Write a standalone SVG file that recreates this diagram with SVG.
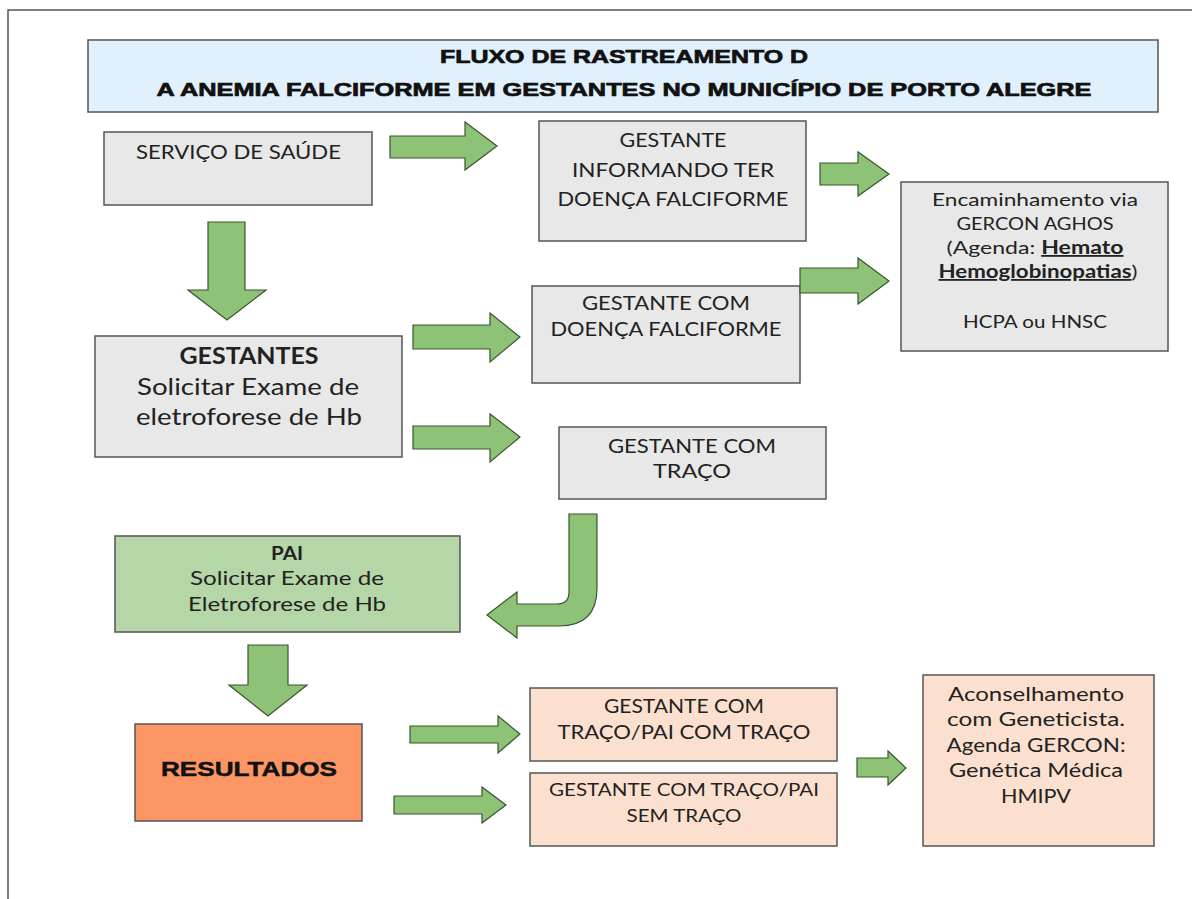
<svg xmlns="http://www.w3.org/2000/svg" width="1192" height="899" viewBox="0 0 1192 899">
<style>
.box{fill:#e8e8e8;stroke:#555;stroke-width:1.5}
.pai{fill:#b5d6a7;stroke:#555;stroke-width:1.5}
.res{fill:#fd9665;stroke:#555;stroke-width:1.5}
.peach{fill:#fbe0cf;stroke:#555;stroke-width:1.5}
.arrow{fill:#8dc277;stroke:#3a5530;stroke-width:1.2;stroke-linejoin:miter}
.t{font-family:Lato,"Open Sans",sans-serif;font-size:19.5px;fill:#222;text-anchor:middle}
.s{font-size:18px}
.l{font-size:22.5px}
.title{font-family:"Liberation Sans",Arial,sans-serif;font-weight:bold;font-size:19px;fill:#111;stroke:#111;stroke-width:0.7;text-anchor:middle}
</style>
<rect width="1192" height="899" fill="#fff"/>
<path d="M8,899 V10 H1192" fill="none" stroke="#555" stroke-width="1.5"/>

<g id="title">
<rect x="88" y="40" width="1070" height="72" fill="#e0f0fc" stroke="#555" stroke-width="1.5"/>
<text class="title" x="624" y="63" textLength="368" lengthAdjust="spacingAndGlyphs">FLUXO DE RASTREAMENTO D</text>
<text class="title" x="624" y="96" textLength="935" lengthAdjust="spacingAndGlyphs">A ANEMIA FALCIFORME EM GESTANTES NO MUNICÍPIO DE PORTO ALEGRE</text>
</g>

<g id="servico">
<rect class="box" x="104" y="132" width="268" height="73"/>
<text class="t" x="238.5" y="159" textLength="205" lengthAdjust="spacingAndGlyphs">SERVIÇO DE SAÚDE</text>
</g>

<g id="gestante-informando">
<rect class="box" x="539" y="121" width="267" height="120"/>
<text class="t" x="673" y="147" textLength="107" lengthAdjust="spacingAndGlyphs">GESTANTE</text>
<text class="t" x="673" y="177" textLength="202" lengthAdjust="spacingAndGlyphs">INFORMANDO TER</text>
<text class="t" x="673" y="206" textLength="231" lengthAdjust="spacingAndGlyphs">DOENÇA FALCIFORME</text>
</g>

<g id="encaminhamento">
<rect class="box" x="901" y="182" width="267" height="169"/>
<text class="t s" x="1035" y="206" textLength="206" lengthAdjust="spacingAndGlyphs">Encaminhamento via</text>
<text class="t s" x="1035" y="230" textLength="157" lengthAdjust="spacingAndGlyphs">GERCON AGHOS</text>
<text class="t s" x="1035" y="254" textLength="177" lengthAdjust="spacingAndGlyphs">(Agenda: <tspan font-weight="bold" text-decoration="underline">Hemato</tspan></text>
<text class="t s" x="1038" y="278" textLength="199" lengthAdjust="spacingAndGlyphs"><tspan font-weight="bold" text-decoration="underline">Hemoglobinopatias</tspan>)</text>
<text class="t s" x="1035" y="328" textLength="144" lengthAdjust="spacingAndGlyphs">HCPA ou HNSC</text>
</g>

<g id="gestante-doenca">
<rect class="box" x="532" y="286" width="268" height="97"/>
<text class="t" x="666" y="310" textLength="168" lengthAdjust="spacingAndGlyphs">GESTANTE COM</text>
<text class="t" x="666" y="336" textLength="231" lengthAdjust="spacingAndGlyphs">DOENÇA FALCIFORME</text>
</g>

<g id="gestantes">
<rect class="box" x="95" y="336" width="307" height="121"/>
<text class="t l" x="249" y="364" style="font-weight:bold" textLength="139" lengthAdjust="spacingAndGlyphs">GESTANTES</text>
<text class="t l" x="248" y="395" textLength="222" lengthAdjust="spacingAndGlyphs">Solicitar Exame de</text>
<text class="t l" x="249" y="425" textLength="226" lengthAdjust="spacingAndGlyphs">eletroforese de Hb</text>
</g>

<g id="gestante-traco">
<rect class="box" x="559" y="427" width="267" height="72"/>
<text class="t" x="692" y="453" textLength="168" lengthAdjust="spacingAndGlyphs">GESTANTE COM</text>
<text class="t" x="692" y="478" textLength="78" lengthAdjust="spacingAndGlyphs">TRAÇO</text>
</g>

<g id="pai">
<rect class="pai" x="115" y="536" width="345" height="96"/>
<text class="t" x="287" y="560" style="font-weight:bold" textLength="32" lengthAdjust="spacingAndGlyphs">PAI</text>
<text class="t" x="287" y="585" textLength="194" lengthAdjust="spacingAndGlyphs">Solicitar Exame de</text>
<text class="t" x="287" y="611" textLength="198" lengthAdjust="spacingAndGlyphs">Eletroforese de Hb</text>
</g>

<g id="resultados">
<rect class="res" x="135" y="724" width="227" height="97"/>
<text class="title" x="249" y="776" style="font-size:21px;stroke-width:0.5" textLength="176" lengthAdjust="spacingAndGlyphs">RESULTADOS</text>
</g>

<g id="traco-com-traco">
<rect class="peach" x="530" y="688" width="307" height="73"/>
<text class="t" x="684" y="713" textLength="160" lengthAdjust="spacingAndGlyphs">GESTANTE COM</text>
<text class="t" x="684" y="739" textLength="253" lengthAdjust="spacingAndGlyphs">TRAÇO/PAI COM TRAÇO</text>
</g>

<g id="traco-sem-traco">
<rect class="peach" x="530" y="773" width="307" height="73"/>
<text class="t s" x="684" y="796" textLength="270" lengthAdjust="spacingAndGlyphs">GESTANTE COM TRAÇO/PAI</text>
<text class="t s" x="684" y="822" textLength="115" lengthAdjust="spacingAndGlyphs">SEM TRAÇO</text>
</g>

<g id="aconselhamento">
<rect class="peach" x="923" y="675" width="231" height="171"/>
<text class="t" x="1036" y="701" textLength="176" lengthAdjust="spacingAndGlyphs">Aconselhamento</text>
<text class="t" x="1036" y="726" textLength="178" lengthAdjust="spacingAndGlyphs">com Geneticista.</text>
<text class="t" x="1036" y="752" textLength="179" lengthAdjust="spacingAndGlyphs">Agenda GERCON:</text>
<text class="t" x="1036" y="777" textLength="174" lengthAdjust="spacingAndGlyphs">Genética Médica</text>
<text class="t" x="1036" y="803" textLength="70" lengthAdjust="spacingAndGlyphs">HMIPV</text>
</g>

<g id="connectors">
<path class="arrow" d="M390,136 H465 V122 L497,146 L465,170 V158 H390 Z"/>
<path class="arrow" d="M820,163 H858 V152 L889,174 L858,196 V185 H820 Z"/>
<path class="arrow" d="M800,268 H858 V258 L889,281 L858,304 V293 H800 Z"/>
<path class="arrow" d="M208,222 H245 V290 H266 L227,320 L188,290 H208 Z"/>
<path class="arrow" d="M413,325 H490 V313 L520,337 L490,362 V349 H413 Z"/>
<path class="arrow" d="M413,426 H490 V414 L520,437 L490,462 V449 H413 Z"/>
<path class="arrow" d="M569,514 H597 V588 Q597,626 559,626 H517 V638 L487,615 L517,592 V604 H557 Q569,604 569,592 Z"/>
<path class="arrow" d="M248,645 H288 V685 H307 L268,716 L229,685 H248 Z"/>
<path class="arrow" d="M410,726 H498 V716 L520,734 L498,753 V743 H410 Z"/>
<path class="arrow" d="M394,796 H482 V787 L506,805 L482,823 V814 H394 Z"/>
<path class="arrow" d="M857,758 H888 V751 L906,768 L888,785 V777 H857 Z"/>
</g>
</svg>
